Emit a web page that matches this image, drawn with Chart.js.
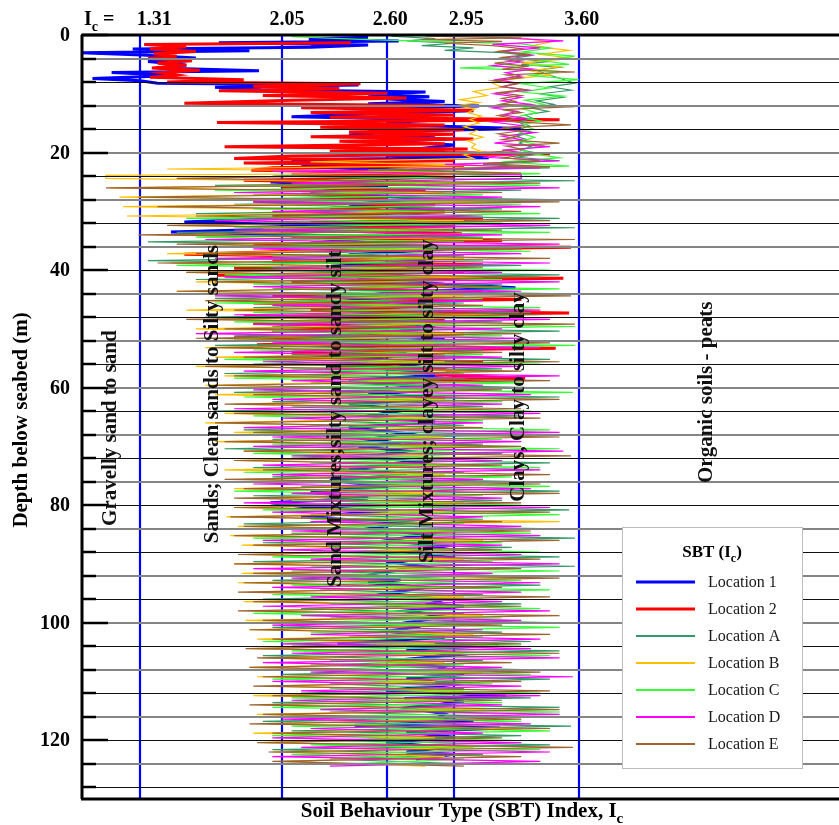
<!DOCTYPE html>
<html>
<head>
<meta charset="utf-8">
<script src="https://cdn.jsdelivr.net/npm/chart.js@4.4.0/dist/chart.umd.min.js"></script>
<style>
html, body { margin: 0; padding: 0; background: #fff; overflow: hidden; }
#wrap { width: 839px; height: 825px; position: relative; }
</style>
</head>
<body>
<div id="wrap"><canvas id="myChart"></canvas></div>
<script>
// Series names and colours
var seriesNames = ['Location 1', 'Location 2', 'Location A', 'Location B', 'Location C', 'Location D', 'Location E'];
var seriesColors = ['#0000ff', '#ff0000', '#339966', '#ffc000', '#33ff33', '#ff00ff', '#9c6431'];

// SBT zone boundaries (top labels) and depth tick labels
var icBoundaries = [1.31, 2.05, 2.60, 2.95, 3.60];
var icBoundaryLabels = ['1.31', '2.05', '2.60', '2.95', '3.60'];
var depthTickLabels = [0, 20, 40, 60, 80, 100, 120];
var zoneNames = ['Gravelly sand to sand', 'Sands; Clean sands to Silty sands', 'Sand Mixtures;silty sand to sandy silt',
    'Silt Mixtures; clayey silt to silty clay', 'Clays, Clay to silty clay', 'Organic soils - peats'];

// Location 1 (depth m, Ic)
var loc1Depth = [0.4,0.7,1.0,1.3,1.7,2.1,2.4,2.7,3.0,3.4, 3.9,4.5,5.1,5.6,6.1,6.4,6.9,7.4,7.8,8.2,
    8.5,8.9,9.3,9.7,10.1,10.5,10.9,11.3,11.7,12.1, 12.5,12.9,13.3,13.9,14.4,14.9,15.4,15.9,16.4,17.0,
    17.5,18.1,18.7,19.4,19.9,20.5,20.9,21.2,21.7,22.4, 23.0,23.6,24.2,25.0,
    25.8,26.8,27.8,28.8,29.8,30.8,31.8,32.6,33.5,34.4, 35.4,36.4,37.4,38.4,39.4,40.4,41.4,42.4,43.0,43.8,
    44.8,45.8,46.8,47.8,48.8,49.8,50.8,51.8,52.8,53.8, 54.8,55.8,56.8,57.8,58.8,59.8,60.8,61.8,62.8,63.8,
    64.8,65.8,66.8,67.8,68.8,69.5,70.0,70.8,71.8,72.8, 73.8,74.8,75.8,76.8,77.8,78.8,79.6,80.2,81.0,82.0,
    83.0,84.0,85.0,86.0,87.0,88.0,89.0,89.6,90.5,91.5, 92.4,92.7,93.2,94.0,95.0,96.0,96.8,97.2,98.0,99.0,
    100.0,100.7,101.5,102.5,103.5,103.9,104.5,105.5,106.5,107.5, 108.3,108.8,109.5,110.5,111.5,112.5,112.9,113.5,114.5,115.5,
    116.4,116.8,117.5,117.9,118.6,119.5,120.4,121.2,122.0,122.4, 123.2];
var loc1Ic = [2.5,2.19,2.66,1.72,2.5,2.2,1.27,1.88,1.0,1.32, 1.6,1.35,1.55,1.4,1.93,1.16,1.5,1.06,1.31,1.4,
    2.45,1.7,1.94,2.8,2.5,2.82,2.6,2.9,2.5,3.08, 2.37,3.05,2.6,2.1,2.9,2.6,2.75,3.3,2.6,2.4,
    2.85,2.65,2.95,2.75,2.9,2.6,3.13,2.1,2.5,2.15, 2.7,2.3,2.8,1.99,
    2.6,2.2,2.8,2.4,2.9,2.3,1.54,2.5,1.47,2.6, 2.2,2.9,2.4,2.8,2.3,2.7,2.5,2.9,3.27,2.6,
    2.4,2.8,2.3,2.7,2.4,2.85,2.5,2.9,2.3,2.7, 2.4,2.8,2.6,2.9,2.4,2.75,2.5,2.9,2.4,2.7,
    2.5,2.85,2.4,2.7,2.5,2.67,2.45,2.7,2.5,2.8, 2.4,2.7,2.3,2.6,2.2,2.5,1.99,2.14,2.6,2.15,
    2.7,2.5,2.8,2.6,2.9,2.7,2.95,2.6,2.8,2.55, 2.45,2.67,2.5,2.8,2.6,2.9,2.82,3.0,2.7,2.9,
    2.7,2.75,2.6,2.9,2.34,3.18,2.7,2.95,2.6,2.9, 2.85,3.0,2.7,2.95,2.6,3.22,2.69,3.0,2.7,2.9,
    2.85,3.05,2.43,3.19,2.7,2.95,2.6,2.9,2.7,2.95, 2.75];

// Location 2
var loc2Depth = [1.3,1.6,2.0,2.4,2.8,3.2,3.6,4.0,4.4,4.8, 5.2,5.6,6.0,6.4,6.8,7.2,7.6,8.0,8.3,8.7,
    9.1,9.5,9.9,10.3,10.7,11.1,11.6,12.0,12.4,12.8, 13.2,13.6,14.0,14.4,14.9,15.3,15.7,16.1,16.5,16.9,
    17.3,17.7,18.1,18.5,19.0,19.4,19.8,20.2,20.6,21.0, 21.4,21.8,22.2,22.6,23.0,23.4,23.8,24.2,24.7,25.3,
    25.9,26.5,27.1,27.7,28.3,28.9,29.5,30.1,30.7,31.3, 31.9,32.5,33.1,33.8,34.4,35.0,35.6,36.1,36.7,37.3,
    37.9,38.5,39.1,39.7,40.3,40.9,41.4,42.0,42.6,43.2, 43.8,44.4,45.0,45.6,46.2,46.8,47.3,47.9,48.5,49.1,
    49.7,50.3,50.9,51.5,52.1,52.7,53.3,53.9,54.5,55.1, 55.7,56.3,56.9,57.3,57.8,58.4,59.0];
var loc2Ic = [2.41,1.33,1.55,1.36,1.6,1.38,1.5,1.35,1.58,1.4, 1.55,1.37,1.62,1.42,1.5,1.36,1.85,1.45,2.46,1.9,
    2.35,1.72,2.6,1.95,2.7,2.1,1.54,2.9,2.15,3.05, 2.2,2.95,2.3,3.5,1.71,2.9,2.25,3.0,2.4,2.95,
    2.2,3.05,2.35,2.9,1.75,3.02,2.3,3.45,2.1,1.8, 2.95,1.85,3.0,2.0,1.89,2.9,2.1,2.95,1.85,2.75,
    2.05,2.8,2.15,2.6,1.9,2.85,2.3,2.9,2.0,3.1, 2.2,2.95,1.95,2.99,2.1,3.2,1.9,3.56,2.2,1.54,
    2.85,2.0,3.1,1.8,3.0,1.71,3.52,2.1,2.9,2.4, 3.1,2.0,3.3,1.9,2.8,2.2,3.55,1.85,2.9,1.9,
    2.75,2.0,3.0,1.8,2.7,1.92,3.48,2.1,2.9,1.95, 3.1,2.3,2.9,2.95,2.85,3.32,2.5];

// Upper 24 m of Locations A-E
var locADepthTop = [0.2,0.6,1.0,1.4,1.8,2.2,2.6,3.0,3.5,4.0,4.5,5.0,5.5,6.0,6.5,8.2,8.8,9.4,10.0,10.6,11.2,11.8,12.4,13.0,13.6,
    14.2,14.8,15.4,16.0,16.6,17.2,17.8,18.4,19.0,19.6,20.2,20.8,21.4,22.0,22.6,23.2];
var locAIcTop = [2.62,2.85,2.7,2.95,2.78,3.05,2.9,3.2,3.35,3.25,3.45,3.3,3.5,3.38,3.42,3.58,3.45,3.56,3.4,3.52,3.38,3.47,3.35,3.44,3.32,
    3.36,3.28,3.34,3.3,3.36,3.27,3.33,3.29,3.35,3.3,3.4,3.28,3.5,3.1,3.45,2.6];
var locBDepthTop = [0.5,1.2,1.9,2.6,3.3,4.0,4.7,5.4,6.1,6.8, 7.5,8.2,8.9,9.6,10.3,11.0,11.5,12.0,12.6,13.2,
    13.8,14.4,15.0,15.6,16.2,16.8,17.4,18.0,18.6,19.2, 19.8,20.4,21.0,21.6,22.2,22.8,23.4,23.9];
var locBIcTop = [3.3,3.45,3.35,3.55,3.4,3.58,3.3,3.5,3.35,3.45, 3.25,3.15,3.2,3.05,3.12,2.98,3.08,2.96,3.06,3.02,
    3.09,3.03,3.08,3.0,3.07,3.03,3.1,3.02,3.06,3.04, 3.09,3.0,3.05,2.2,3.1,1.45,3.2,1.13];
var locCDepthTop = [0.3,0.8,1.5,2.2,2.9,3.6,4.3,5.0,5.6,6.2, 6.9,7.6,8.3,9.0,9.7,10.4,11.1,11.8,12.5,13.2,
    13.9,14.6,15.3,16.0,16.7,17.4,18.1,18.8,19.5,20.2, 20.9,21.6,22.3,23.0,23.6];
var locCIcTop = [2.1,2.5,3.3,3.45,3.3,3.58,3.4,3.55,2.98,3.5, 3.35,3.6,3.3,3.45,3.3,3.52,3.32,3.42,3.3,3.38,
    3.28,3.4,3.3,3.36,3.29,3.37,3.3,3.41,3.3,3.36, 3.5,3.2,3.55,2.5,3.4];
var locDDepthTop = [0.5,1.0,1.6,2.2,2.8,3.4,4.0,4.6,5.2,5.8, 6.4,7.0,7.6,8.2,8.8,9.4,10.0,10.6,11.2,11.8,
    12.4,13.0,13.6,14.2,14.8,15.4,16.0,16.6,17.2,17.8, 18.4,19.0,19.6,20.2,20.8,21.4,22.0,22.6,23.2,23.8];
var locDIcTop = [3.2,3.52,3.15,3.4,3.2,3.35,3.18,3.3,3.15,3.36, 3.22,3.3,3.17,3.28,3.2,3.34,3.16,3.3,3.2,3.35,
    3.15,3.28,3.2,3.32,3.15,3.3,3.18,3.37,3.2,3.3, 3.16,3.45,3.2,3.35,3.1,3.5,2.9,3.4,2.0,3.3];
var locEDepthTop = [0.2,0.5,0.8,1.1,1.4,1.8,2.3,2.8,3.3,3.8, 4.3,4.8,5.3,5.8,6.3,6.8,7.3,7.8,8.3,8.8,
    9.3,9.8,10.3,10.8,11.3,11.8,12.2,12.7,13.2,13.7, 14.2,14.7,15.3,15.8,16.3,16.8,17.3,17.8,18.4,18.9,
    19.4,19.9,20.4,20.9,21.4,21.9,22.4,22.9,23.5];
var locEIcTop = [2.8,3.3,2.78,3.2,2.9,3.15,3.3,3.18,3.35,3.2, 3.3,3.16,3.34,3.2,3.58,3.22,3.3,3.15,3.28,3.2,
    3.32,3.18,3.3,3.2,3.27,3.19,3.58,3.2,3.3,3.18, 3.26,3.22,3.56,3.2,3.3,3.18,3.28,3.2,3.5,3.22,
    3.3,3.17,3.32,3.2,3.4,3.1,3.45,2.5,3.3];

// Depths of the deeper readings (24 m down), one row per 4 m
var gridDepthA = [24.0,24.8,25.6,26.4,27.2, 28.0,28.8,29.6,30.4,31.2, 32.0,32.8,33.6,34.4,35.2, 36.0,36.8,37.6,38.4,39.2,
    40.0,40.8,41.6,42.4,43.2, 44.0,44.8,45.6,46.4,47.2, 48.0,48.8,49.6,50.4,51.2, 52.0,52.8,53.6,54.4,55.2,
    56.0,56.8,57.6,58.4,59.2, 60.0,60.8,61.6,62.4,63.2, 64.0,64.8,65.6,66.4,67.2, 68.0,68.8,69.6,70.4,71.2,
    72.0,72.8,73.6,74.4,75.2, 76.0,76.8,77.6,78.4,79.2, 80.0,80.8,81.6,82.4,83.2, 84.0,84.8,85.6,86.4,87.2,
    88.0,88.8,89.6,90.4,91.2, 92.0,92.8,93.6,94.4,95.2, 96.0,96.8,97.6,98.4,99.2, 100.0,100.8,101.6,102.4,103.2,
    104.0,104.8,105.6,106.4,107.2, 108.0,108.8,109.6,110.4,111.2, 112.0,112.8,113.6,114.4,115.2, 116.0,116.8,117.6,118.4,119.2,
    120.0,120.8,121.6,122.4,123.2, 124.0];
var gridDepthB = [24.4,25.2,26.0,26.8,27.6, 28.4,29.2,30.0,30.8,31.6, 32.4,33.2,34.0,34.8,35.6, 36.4,37.2,38.0,38.8,39.6,
    40.4,41.2,42.0,42.8,43.6, 44.4,45.2,46.0,46.8,47.6, 48.4,49.2,50.0,50.8,51.6, 52.4,53.2,54.0,54.8,55.6,
    56.4,57.2,58.0,58.8,59.6, 60.4,61.2,62.0,62.8,63.6, 64.4,65.2,66.0,66.8,67.6, 68.4,69.2,70.0,70.8,71.6,
    72.4,73.2,74.0,74.8,75.6, 76.4,77.2,78.0,78.8,79.6, 80.4,81.2,82.0,82.8,83.6, 84.4,85.2,86.0,86.8,87.6,
    88.4,89.2,90.0,90.8,91.6, 92.4,93.2,94.0,94.8,95.6, 96.4,97.2,98.0,98.8,99.6, 100.4,101.2,102.0,102.8,103.6,
    104.4,105.2,106.0,106.8,107.6, 108.4,109.2,110.0,110.8,111.6, 112.4,113.2,114.0,114.8,115.6, 116.4,117.2,118.0,118.8,119.6,
    120.4,121.2,122.0,122.8,123.6, 124.4];

var locAIcDeep = [2.0,3.58,1.7,3.3,1.9, 3.45,1.8,3.2,1.6,3.5, 1.95,3.58,1.5,3.1,1.35, 3.4,2.1,3.0,1.35,3.3,
    1.8,3.5,1.6,3.2,2.0, 3.45,1.7,3.0,1.9,3.35, 1.65,3.2,2.0,3.5,1.8, 3.3,1.7,3.1,2.1,3.45,
    1.9,3.2,1.75,3.0,2.2, 3.35,1.8,3.5,2.0,3.1, 1.7,3.3,2.2,3.0,1.85, 3.4,2.0,3.1,1.75,3.2,
    2.1,3.45,1.9,3.0,2.0, 3.3,2.15,3.5,1.9,3.2, 2.0,3.55,2.2,3.1,1.85, 3.4,2.1,3.58,1.95,3.25,
    2.2,3.5,1.9,3.58,2.1, 3.2,2.0,3.4,2.25,3.1, 1.95,3.3,2.15,3.0,2.3, 3.45,2.0,3.2,2.4,3.35,
    2.1,3.5,1.95,3.1,2.2, 3.3,2.05,3.45,2.3,3.0, 2.15,3.35,2.0,3.5,2.3, 3.2,1.95,3.56,2.1,3.3,
    2.2,3.45,2.0,3.1,2.3, 3.0];
var locBIcDeep = [1.13,3.1,1.15,2.9,1.2, 3.2,1.22,2.8,1.24,3.0, 1.5,2.9,1.4,3.1,1.6, 2.8,1.45,3.0,1.47,2.7,
    1.55,3.1,1.6,2.9,1.5, 3.0,1.65,2.8,1.55,3.2, 1.7,2.9,1.6,3.0,1.75, 2.85,1.65,3.1,1.7,2.9,
    1.6,3.2,1.75,2.8,1.65, 3.0,1.7,2.9,1.8,3.1, 1.75,2.8,1.65,3.0,1.8, 2.9,1.7,3.1,1.85,2.8,
    1.8,3.0,1.75,2.9,1.85, 3.1,1.8,2.85,1.9,3.0, 1.8,2.9,1.76,3.5,1.82, 2.95,1.78,3.1,1.84,2.8,
    1.86,3.0,1.8,2.9,1.84, 3.4,1.82,2.85,1.88,3.0, 1.85,2.95,1.9,3.1,1.86, 2.9,1.88,3.05,1.92,2.85,
    1.9,3.0,1.95,2.9,1.88, 3.1,1.92,2.85,2.0,3.0, 1.9,2.95,1.96,3.1,1.92, 2.9,1.98,3.3,1.9,2.85,
    1.95,3.05,2.0,2.9,2.05, 2.8];
var locCIcDeep = [3.0,2.2,3.4,1.7,3.1, 1.6,3.3,1.9,3.4,1.55, 3.2,1.8,3.45,1.6,3.0, 1.7,3.35,2.0,3.1,1.5,
    3.45,1.75,3.2,1.9,3.5, 2.0,3.1,1.7,3.4,1.9, 3.3,1.8,3.58,2.0,3.2, 1.7,3.58,1.9,3.1,1.75,
    3.4,2.1,3.0,1.8,3.3, 2.0,3.57,1.85,3.2,2.1, 3.35,1.9,3.1,2.2,3.45, 1.8,3.2,2.0,3.5,1.9,
    3.1,2.2,3.4,1.85,3.25, 2.0,3.45,1.8,3.1,2.1, 3.3,1.95,3.5,2.2,3.0, 2.1,3.35,1.9,3.2,2.3,
    3.4,2.0,3.15,2.2,3.5, 1.95,3.3,2.1,3.45,2.0, 3.1,2.3,3.4,1.9,3.2, 2.05,3.5,2.2,3.1,1.95,
    3.3,2.1,3.45,2.3,3.0, 2.2,3.35,2.0,3.15,2.3, 3.4,2.1,3.2,2.0,3.5, 2.25,3.3,2.1,3.45,2.0,
    3.25,2.2,3.4,2.1,3.0, 2.4];
var locDIcDeep = [3.3,2.1,3.5,1.8,3.2, 1.9,3.4,2.0,3.1,1.7, 3.45,1.8,3.2,1.65,3.5, 1.9,3.3,1.7,3.45,2.0,
    3.2,1.75,3.5,1.9,3.3, 1.7,3.1,2.0,3.4,1.8, 3.45,1.9,3.2,1.6,3.3, 2.0,3.4,1.8,3.2,1.95,
    3.3,1.85,3.5,2.1,3.1, 1.9,3.35,2.0,3.2,1.8, 3.4,2.05,3.1,1.85,3.5, 2.0,3.3,1.9,3.52,2.1,
    3.2,1.95,3.4,2.0,3.1, 1.9,3.35,2.1,3.2,1.85, 3.45,2.0,3.1,2.2,3.3, 2.1,3.4,1.95,3.2,2.05,
    3.3,2.2,3.5,1.9,3.15, 2.1,3.4,2.0,3.3,2.2, 3.2,1.95,3.45,2.15,3.3, 2.0,3.1,2.2,3.4,2.05,
    3.35,2.1,3.5,1.95,3.2, 2.2,3.57,2.0,3.3,2.15, 3.4,2.1,3.2,2.25,3.5, 2.05,3.35,2.2,3.1,2.0,
    3.3,2.15,3.45,2.0,3.4, 2.3];
var locEIcDeep = [1.5,3.4,1.13,3.2,1.3, 3.5,1.4,3.3,1.6,3.45, 1.45,3.2,1.3,3.58,1.5, 3.3,1.6,3.45,1.4,3.1,
    1.55,3.4,1.7,3.2,1.5, 3.56,1.65,3.1,1.8,3.4, 1.55,3.58,1.75,3.3,1.6, 3.45,1.7,3.2,1.85,3.5,
    1.65,3.3,1.8,3.45,1.7, 3.2,1.9,3.5,1.75,3.3, 1.8,3.4,1.7,3.1,1.9, 3.5,1.75,3.3,1.85,3.56,
    1.8,3.2,1.95,3.45,1.75, 3.4,1.85,3.5,1.8,3.3, 1.8,3.45,1.78,3.2,1.85, 3.35,1.8,3.5,1.9,3.2,
    1.82,3.4,1.8,3.3,1.9, 3.5,1.85,3.2,1.82,3.45, 1.9,3.3,1.82,3.5,1.95, 3.2,1.88,3.45,2.0,3.3,
    1.86,3.5,1.92,3.25,1.88, 3.4,1.95,3.3,1.9,3.45, 2.0,3.2,1.88,3.5,1.95, 3.3,1.88,3.45,2.0,3.2,
    1.92,3.57,1.98,3.3,2.0, 3.0];

var FONT = '"Liberation Serif", "Times New Roman", serif';
var problems = [];

function pairUp(name, depths, ics) {
    if (depths.length !== ics.length) problems.push(name + ': ' + depths.length + '/' + ics.length);
    var n = Math.min(depths.length, ics.length);
    var out = [];
    for (var i = 0; i < n; i++) out.push({ x: ics[i], y: depths[i] });
    return out;
}

var seriesData = [
    pairUp('L1', loc1Depth, loc1Ic),
    pairUp('L2', loc2Depth, loc2Ic),
    pairUp('A', locADepthTop, locAIcTop).concat(pairUp('Adeep', gridDepthA, locAIcDeep)),
    pairUp('B', locBDepthTop, locBIcTop).concat(pairUp('Bdeep', gridDepthB, locBIcDeep)),
    pairUp('C', locCDepthTop, locCIcTop).concat(pairUp('Cdeep', gridDepthA, locCIcDeep)),
    pairUp('D', locDDepthTop, locDIcTop).concat(pairUp('Ddeep', gridDepthB, locDIcDeep)),
    pairUp('E', locEDepthTop, locEIcTop).concat(pairUp('Edeep', gridDepthB, locEIcDeep))
];

// text with a subscript, e.g. I_c
function subText(ctx, base, sub, tail, x, y, size, weight, align) {
    var big = weight + ' ' + size + 'px ' + FONT;
    var small = weight + ' ' + Math.round(size * 0.72) + 'px ' + FONT;
    ctx.font = big;
    var w1 = ctx.measureText(base).width, w3 = ctx.measureText(tail).width;
    ctx.font = small;
    var w2 = ctx.measureText(sub).width;
    var total = w1 + w2 + w3;
    var x0 = align === 'center' ? x - total / 2 : x;
    ctx.textAlign = 'left';
    ctx.textBaseline = 'alphabetic';
    ctx.font = big;
    ctx.fillText(base, x0, y);
    ctx.font = small;
    ctx.fillText(sub, x0 + w1, y + size * 0.28);
    ctx.font = big;
    ctx.fillText(tail, x0 + w1 + w2, y);
}

var zoneLines = {
    id: 'zoneLines',
    beforeDatasetsDraw: function(chart) {
        var ctx = chart.ctx, a = chart.chartArea, xs = chart.scales.x;
        ctx.save();
        ctx.strokeStyle = '#0000ff';
        ctx.lineWidth = 2.2;
        icBoundaries.forEach(function(v) {
            var px = Math.round(xs.getPixelForValue(v));
            ctx.beginPath();
            ctx.moveTo(px, a.top);
            ctx.lineTo(px, a.bottom);
            ctx.stroke();
        });
        ctx.restore();
    }
};

var frame = {
    id: 'frame',
    afterDatasetsDraw: function(chart) {
        var ctx = chart.ctx, a = chart.chartArea, xs = chart.scales.x, ys = chart.scales.y;
        ctx.save();

        // horizontal grid every 4 m
        for (var d = 4; d < 130; d += 4) {
            var py = Math.round(ys.getPixelForValue(d));
            ctx.beginPath();
            if (d % 8 === 0) {
                ctx.strokeStyle = '#111';
                ctx.lineWidth = 1;
                ctx.moveTo(a.left, py + 0.5);
                ctx.lineTo(a.right, py + 0.5);
            } else {
                ctx.strokeStyle = '#858585';
                ctx.lineWidth = 2;
                ctx.moveTo(a.left, py);
                ctx.lineTo(a.right, py);
            }
            ctx.stroke();
        }

        // axes
        ctx.strokeStyle = '#000';
        ctx.lineWidth = 3;
        ctx.beginPath();
        ctx.moveTo(a.left + 1, a.top);
        ctx.lineTo(a.right, a.top);
        ctx.moveTo(a.left + 1, a.top);
        ctx.lineTo(a.left + 1, a.bottom);
        ctx.moveTo(a.left, a.bottom);
        ctx.lineTo(a.right, a.bottom);
        ctx.stroke();

        // inner ticks
        ctx.lineWidth = 2.5;
        for (var t = 0; t < 130; t += 4) {
            var ty = Math.round(ys.getPixelForValue(t));
            ctx.beginPath();
            ctx.moveTo(a.left, ty);
            ctx.lineTo(a.left + (t % 20 === 0 ? 27 : 15), ty);
            ctx.stroke();
        }

        // depth tick labels
        ctx.fillStyle = '#000';
        ctx.font = 'bold 20px ' + FONT;
        ctx.textAlign = 'right';
        ctx.textBaseline = 'middle';
        depthTickLabels.forEach(function(v) {
            ctx.fillText(String(v), 70, ys.getPixelForValue(v) + 1);
        });

        // top Ic labels
        subText(ctx, 'I', 'c', ' =', 84, 25, 20, 'bold', 'left');
        var shift = [14, 5, 3, 12, 3];
        ctx.font = 'bold 20px ' + FONT;
        ctx.textAlign = 'center';
        ctx.textBaseline = 'alphabetic';
        icBoundaries.forEach(function(v, i) {
            ctx.fillText(icBoundaryLabels[i], xs.getPixelForValue(v) + shift[i], 25);
        });

        // axis titles
        subText(ctx, 'Soil Behaviour Type (SBT) Index, I', 'c', '', 462, 817, 21, 'bold', 'center');
        ctx.save();
        ctx.translate(22, 420);
        ctx.rotate(-Math.PI / 2);
        ctx.font = 'bold 21px ' + FONT;
        ctx.textAlign = 'center';
        ctx.textBaseline = 'middle';
        ctx.fillText('Depth below seabed (m)', 0, 0);
        ctx.restore();

        // zone names (Ic position, depth of centre)
        var zonePos = [[1.155, 66.9], [1.685, 61.1], [2.33, 65.3], [2.81, 62.3], [3.285, 61.6], [4.27, 60.8]];
        ctx.fillStyle = '#111';
        zoneNames.forEach(function(name, i) {
            ctx.save();
            ctx.translate(xs.getPixelForValue(zonePos[i][0]), ys.getPixelForValue(zonePos[i][1]));
            ctx.rotate(-Math.PI / 2);
            ctx.font = 'bold 21px ' + FONT;
            ctx.textAlign = 'center';
            ctx.textBaseline = 'middle';
            ctx.fillText(name, 0, 0);
            ctx.restore();
        });

        // legend
        var lx = 622, ly = 527, lw = 180, lh = 241;
        ctx.fillStyle = '#fff';
        ctx.fillRect(lx, ly, lw, lh);
        ctx.strokeStyle = '#bdbdbd';
        ctx.lineWidth = 1;
        ctx.strokeRect(lx + 0.5, ly + 0.5, lw, lh);
        ctx.fillStyle = '#000';
        subText(ctx, 'SBT (I', 'c', ')', 712, 557, 17, 'bold', 'center');
        seriesNames.forEach(function(name, i) {
            var ry = 582 + i * 27;
            ctx.strokeStyle = seriesColors[i];
            ctx.lineWidth = i < 2 ? 3 : 2;
            ctx.beginPath();
            ctx.moveTo(636, ry);
            ctx.lineTo(695, ry);
            ctx.stroke();
            ctx.fillStyle = '#1a1a1a';
            ctx.font = '16px ' + FONT;
            ctx.textAlign = 'left';
            ctx.textBaseline = 'middle';
            ctx.fillText(name, 708, ry + 1);
        });

        if (problems.length) {
            ctx.fillStyle = 'red';
            ctx.font = '12px sans-serif';
            ctx.fillText(problems.join(' | '), 100, 790);
        }
        ctx.restore();
    }
};

var ctx = document.getElementById('myChart').getContext('2d');

var myChart = new Chart(ctx, {
    type: 'scatter',
    data: {
        datasets: seriesNames.map(function(name, i) {
            return {
                label: name,
                data: seriesData[i],
                showLine: true,
                borderColor: seriesColors[i],
                backgroundColor: seriesColors[i],
                borderWidth: i < 2 ? 3 : 1.2,
                pointRadius: 0,
                tension: 0,
                order: 7 - i
            };
        })
    },
    options: {
        responsive: true,
        maintainAspectRatio: false,
        animation: false,
        devicePixelRatio: 1,
        layout: { padding: { left: 81, right: 0, top: 35, bottom: 26 } },
        plugins: {
            legend: { display: false },
            tooltip: { enabled: false }
        },
        scales: {
            x: { type: 'linear', min: 1.0, max: 4.96, display: false },
            y: { type: 'linear', min: 0, max: 130, reverse: true, display: false }
        }
    },
    plugins: [zoneLines, frame]
});
</script>
</body>
</html>
